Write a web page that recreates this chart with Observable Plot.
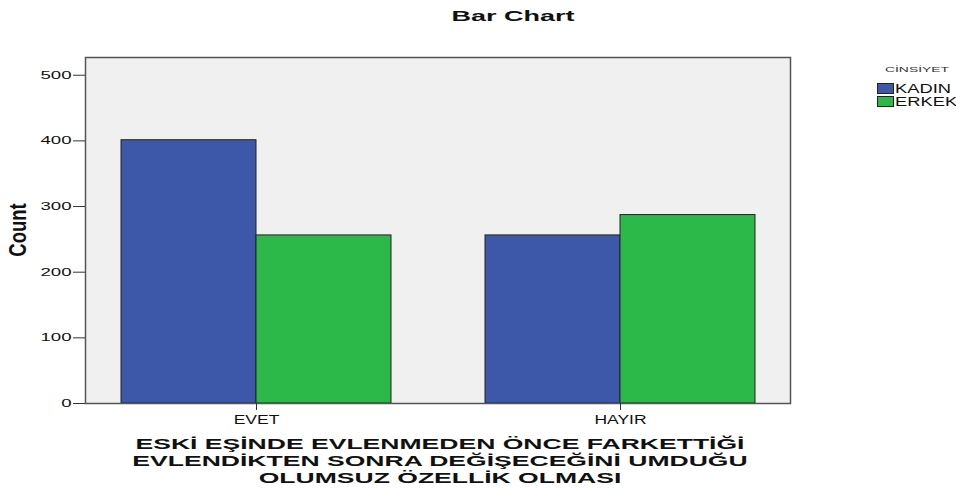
<!DOCTYPE html>
<html>
<head>
<meta charset="utf-8">
<script src="https://cdn.jsdelivr.net/npm/d3@7"></script>
<script src="https://cdn.jsdelivr.net/npm/@observablehq/plot@0.6"></script>
<style>
  html, body { margin: 0; padding: 0; background: #fff; }
  #wrap { position: relative; width: 956px; height: 493px; font-family: "Liberation Sans", Arial, sans-serif; color: #111; overflow: hidden; }
  #chart { position: absolute; left: 0; top: 0; }
  .t { position: absolute; white-space: nowrap; line-height: 1; }
  .title { font-size: 15px; font-weight: bold; }
  .ylab { font-size: 18.5px; font-weight: bold; }
  .xlab { font-size: 15.5px; font-weight: bold; }
  .lt { font-size: 8px; color: #333; }
  .li { font-size: 12px; }
  .sw { position: absolute; width: 17px; height: 11px; border: 1px solid #222; box-sizing: border-box; }
</style>
</head>
<body>
<div id="wrap">
  <div id="chart"></div>
</div>
<script>
const chartTitle = "Bar Chart";
const yTitle = "Count";
const xTitleLines = ["ESKİ EŞİNDE EVLENMEDEN ÖNCE FARKETTİĞİ", "EVLENDİKTEN SONRA DEĞİŞECEĞİNİ UMDUĞU", "OLUMSUZ ÖZELLİK OLMASI"];
const legendTitle = "CİNSİYET";
const groups = ["EVET", "HAYIR"];
const series = ["KADIN", "ERKEK"];
const kadinValues = [401, 256];
const erkekValues = [256, 287];
const colors = ["#3d57a9", "#2db84a"];
const yTicks = [0, 100, 200, 300, 400, 500];

const kadinRows = groups.map((g, i) => ({group: g, sex: series[0], value: kadinValues[i]}));
const erkekRows = groups.map((g, i) => ({group: g, sex: series[1], value: erkekValues[i]}));

const half = 135;

const plot = Plot.plot({
  width: 956,
  height: 493,
  marginTop: 57,
  marginBottom: 90,
  marginLeft: 85,
  marginRight: 166,
  style: {fontFamily: "'Liberation Sans', Arial, sans-serif", fontSize: "11px", color: "#111", background: "transparent"},
  x: {domain: groups, paddingInner: 0.2595, paddingOuter: 0.0966, label: null},
  y: {domain: [0, 527], label: null},
  color: {domain: series, range: colors},
  marks: [
    Plot.frame({fill: "#f0f0f0", stroke: null}),
    Plot.barY(kadinRows, {x: "group", y: "value", fill: "sex", stroke: "#222", strokeWidth: 1, insetRight: half, insetLeft: 0}),
    Plot.barY(erkekRows, {x: "group", y: "value", fill: "sex", stroke: "#222", strokeWidth: 1, insetLeft: half, insetRight: 0}),
    Plot.frame({stroke: "#555", strokeWidth: 1.5}),
    Plot.axisY({ticks: yTicks, tickSize: 12, tickPadding: 2, label: null, fontSize: 11, stroke: "#333"}),
    Plot.axisX({tickSize: 7, tickPadding: 5, label: null, fontSize: 12.5, stroke: "#333"})
  ]
});
const wrap = document.getElementById("wrap");
document.getElementById("chart").appendChild(plot);

// horizontal stretch of svg tick labels (the reference is drawn with wide lettering)
function stretchSvg(t, s) {
  try {
    const len = t.getComputedTextLength();
    if (len > 0) {
      t.setAttribute("textLength", (len * s).toFixed(2));
      t.setAttribute("lengthAdjust", "spacingAndGlyphs");
    }
  } catch (e) {}
}
plot.querySelectorAll('g[aria-label="y-axis tick label"] text').forEach(t => stretchSvg(t, 1.69));
plot.querySelectorAll('g[aria-label="x-axis tick label"] text').forEach(t => stretchSvg(t, 1.4));

// html texts
function addText(cls, text, opts) {
  const d = document.createElement("div");
  d.className = "t " + cls;
  d.textContent = text;
  wrap.appendChild(d);
  const w = d.getBoundingClientRect().width;
  const s = opts.target ? opts.target / w : (opts.scale || 1);
  d.style.left = opts.x + "px";
  d.style.top = opts.y + "px";
  if (opts.anchor === "start") {
    d.style.transformOrigin = "0 50%";
    d.style.transform = `translateY(-50%) scaleX(${s})`;
  } else {
    d.style.transform = `translate(-50%, -50%) scaleX(${s})${opts.rotate ? " rotate(-90deg)" : ""}`;
  }
  return s;
}
addText("title", chartTitle, {x: 513, y: 15, target: 123});
addText("ylab", yTitle, {x: 18.5, y: 230, scale: 1.27, rotate: true});
const xs = addText("xlab", xTitleLines[0], {x: 440, y: 444, target: 609});
addText("xlab", xTitleLines[1], {x: 440, y: 461, scale: xs});
addText("xlab", xTitleLines[2], {x: 440, y: 478, scale: xs});
addText("lt", legendTitle, {x: 885, y: 69.5, target: 64, anchor: "start"});
const ls = addText("li", series[0], {x: 895, y: 88.5, target: 56, anchor: "start"});
addText("li", series[1], {x: 895, y: 101.5, scale: ls, anchor: "start"});
const swTops = [83, 96];
series.forEach((s, i) => {
  const sw = document.createElement("div");
  sw.className = "sw";
  sw.style.left = "877px";
  sw.style.top = swTops[i] + "px";
  sw.style.background = colors[i];
  wrap.appendChild(sw);
});
</script>
</body>
</html>
